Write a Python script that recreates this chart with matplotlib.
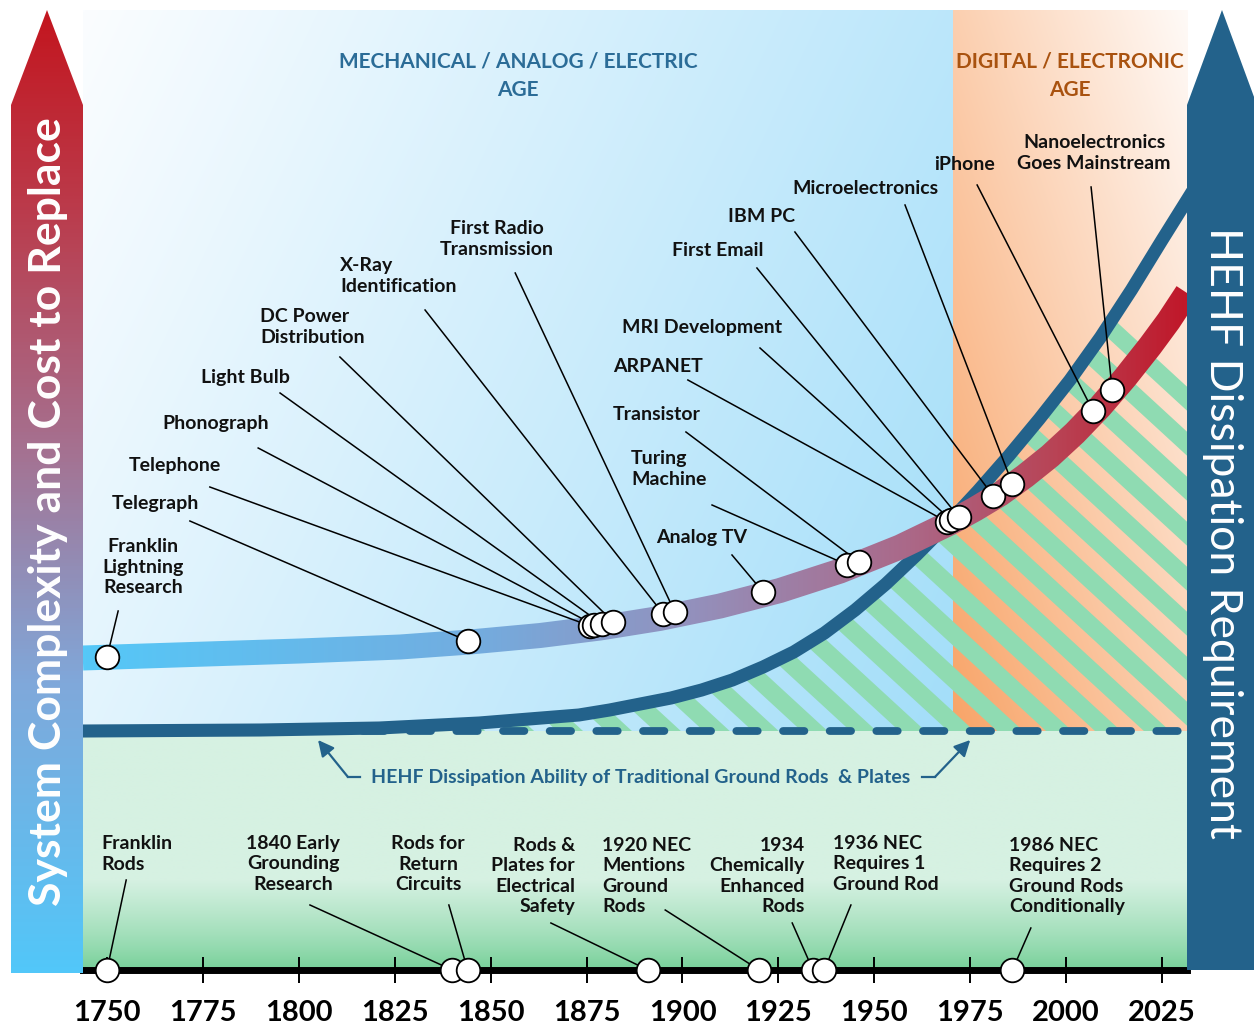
import numpy as np
import matplotlib
matplotlib.use('Agg')
import matplotlib.pyplot as plt
from matplotlib.colors import LinearSegmentedColormap, to_rgb
from matplotlib.patches import Polygon
from matplotlib.path import Path
from matplotlib.transforms import IdentityTransform
from matplotlib.collections import PolyCollection

plt.rcParams['font.family'] = ['Lato', 'DejaVu Sans']

# ---------------- data ----------------
# system complexity / cost to replace curve
cplx_years = [1743.7, 1800.3, 1826.4, 1844.6, 1862.9, 1878.5, 1894.1, 1909.8, 1925.4, 1941.1,
              1956.7, 1969.7, 1976.3, 1982.8, 1989.3, 1995.8, 2002.3, 2008.8, 2015.3, 2021.9,
              2026.7, 2031.5]
cplx_level = [312, 319, 323, 328, 334.5, 342, 351.6, 364, 379.5, 399,
              423, 447, 461, 476, 494, 514, 537, 563, 592, 624,
              649, 677]

# HEHF dissipation requirement curve
hehf_years = [1744, 1790, 1821, 1847, 1860, 1873, 1881, 1889, 1897, 1905, 1913, 1921, 1929,
              1937, 1945, 1953, 1961, 1969, 1977, 1985, 1993, 2001, 2009, 2017, 2025, 2032]
hehf_level = [239, 240, 242, 247, 251, 255, 260, 266, 272, 280, 290, 303, 318,
              337, 360, 386, 415, 446, 479, 514, 551, 590, 633, 680, 730, 773]

rods_level = 239          # ability of traditional ground rods & plates
digital_start = 1970.5    # start of digital / electronic age

tech_labels = ["Franklin\nLightning\nResearch", "Telegraph", "Telephone", "Phonograph",
               "Light Bulb", "DC Power\nDistribution", "X-Ray\nIdentification",
               "First Radio\nTransmission", "Analog TV", "Turing\nMachine", "Transistor",
               "ARPANET", "MRI Development", "First Email", "IBM PC", "Microelectronics",
               "iPhone", "Nanoelectronics\nGoes Mainstream"]
tech_years = [1750, 1844, 1876, 1877, 1879, 1882, 1895, 1898, 1921, 1943, 1946,
              1969, 1970, 1972, 1981, 1986, 2007, 2012]
tech_level = [313, 329, 344, 345, 346, 348, 356, 358, 378, 405, 408,
              448, 450, 453, 474, 486, 559, 580]

ground_labels = ["Franklin\nRods", "1840 Early\nGrounding\nResearch", "Rods for\nReturn\nCircuits",
                 "Rods &\nPlates for\nElectrical\nSafety", "1920 NEC\nMentions\nGround\nRods",
                 "1934\nChemically\nEnhanced\nRods", "1936 NEC\nRequires 1\nGround Rod",
                 "1986 NEC\nRequires 2\nGround Rods\nConditionally"]
ground_years = [1750, 1840, 1844, 1891, 1920, 1934, 1937, 1986]

tick_years = list(range(1750, 2026, 25))

# ---------------- layout of labels ----------------
tech_text_xy = [(1759.4, 403), (1762.5, 466), (1767.7, 504), (1778.4, 546), (1786.0, 592),
                (1789.9, 643), (1810.7, 694), (1851.7, 731), (1905.1, 432), (1886.6, 501),
                (1893.4, 556), (1893.6, 603), (1905.1, 643), (1909.3, 720), (1920.5, 754),
                (1947.8, 781), (1973.4, 805), (2007.3, 817)]
tech_ha = ['center', 'center', 'center', 'center', 'center', 'left', 'left', 'center', 'center',
           'left', 'center', 'center', 'center', 'center', 'center', 'center', 'center', 'center']
tech_lead = [(1752.9, 359), (1771.6, 449), (1776.8, 483), (1789.4, 522), (1795.1, 577),
             (1810.7, 613), (1832.9, 660), (1856.4, 697), (1912.9, 415), (1907.7, 465),
             (1900.9, 538), (1901.4, 590), (1920.2, 622), (1919.4, 702), (1929.3, 738),
             (1958.0, 765), (1976.8, 785), (2006.5, 783)]

ground_text_xy = [(1748.4, 116), (1798.5, 106), (1833.7, 106), (1872.0, 94),
                  (1879.0, 94), (1931.9, 94), (1939.2, 106), (1985.1, 94)]
ground_ha = ['left', 'center', 'center', 'right', 'left', 'right', 'left', 'left']
ground_lead = [(1755.0, 90), (1802.9, 65), (1839.1, 65), (1865.7, 47),
               (1895.5, 60), (1928.6, 47), (1943.9, 65), (1990.8, 42)]

# ---------------- figure ----------------
W, H = 1254, 1028
fig = plt.figure(figsize=(W / 100, H / 100), dpi=100)
ax = fig.add_axes([83 / W, 58 / H, 1104 / W, 960 / H])
x0, x1 = 1743.74, 2031.5
ax.set_xlim(x0, x1)
ax.set_ylim(0, 960)

BLUE = '#23628b'
STRIPE = '#8fdbb2'
LABEL_FS = 14
LSP = 1.22


def grad(c0, c1, t):
    a, b = np.array(to_rgb(c0)), np.array(to_rgb(c1))
    t = np.clip(t, 0, 1)[..., None]
    return a * (1 - t) + b * t


n = 200
u = np.linspace(0, 1, n)[None, :]
v = np.linspace(0, 1, n)[:, None]   # 0 = bottom

# mechanical age background
img = grad('#fbfdff', '#a3def9', 0.72 * u + 0.28 * (1 - v))
ax.imshow(img, extent=(x0, digital_start, rods_level, 960), origin='lower',
          aspect='auto', zorder=0, interpolation='bilinear')
# digital age background
img = grad('#fffaf7', '#f8a468', 1 - (0.5 * u + 0.5 * v))
ax.imshow(img, extent=(digital_start, x1, rods_level, 960), origin='lower',
          aspect='auto', zorder=0, interpolation='bilinear')
# green ground region
lv = np.linspace(0, rods_level, n)[:, None] * np.ones((1, 2))
img = grad('#74cf97', '#d6f1e2', (lv / 90) ** 0.8)
ax.imshow(img, extent=(x0, x1, 0, rods_level), origin='lower',
          aspect='auto', zorder=0, interpolation='bilinear')

# hatched gap between requirement and ability
clip_verts = list(zip(hehf_years, hehf_level)) + [(x1 + 5, hehf_level[-1]), (x1 + 5, rods_level),
                                                   (x0, rods_level)]
clip = Polygon(clip_verts, closed=True, transform=ax.transData, facecolor='none',
               edgecolor='none')
ax.add_patch(clip)
pxy = 1104 / (x1 - x0)          # pixels per year
slope = 0.92
stripes = []
for c in np.arange(0, 1600, 45):
    xa, xb = x0, x1
    ya, yb = c - slope * pxy * (xa - x0), c - slope * pxy * (xb - x0)
    stripes.append([(xa, ya), (xb, yb), (xb, yb + 24), (xa, ya + 24)])
pc = PolyCollection(stripes, facecolors=STRIPE, edgecolors='none', zorder=1)
ax.add_collection(pc)
pc.set_clip_path(clip)

# dashed ability line and requirement curve
ax.axhline(rods_level, color=BLUE, lw=5.6, dashes=(2.75, 3.25), dash_capstyle='round', zorder=2)
ax.plot(hehf_years, hehf_level, color=BLUE, lw=9.4, solid_joinstyle='round', zorder=3)

# complexity band with colour gradient
pts = ax.transData.transform(np.column_stack([cplx_years, cplx_level]))
d = np.gradient(pts, axis=0)
d /= np.hypot(d[:, 0], d[:, 1])[:, None]
nrm = np.column_stack([-d[:, 1], d[:, 0]])
hw = 12.5
band = np.vstack([pts + nrm * hw, (pts - nrm * hw)[::-1]])
band_path = Path(np.vstack([band, band[:1]]), closed=True)
band_cmap = LinearSegmentedColormap.from_list(
    'band', [(0, '#55c8f8'), (0.35, '#72ade0'), (0.55, '#9391bd'), (0.75, '#ab6888'),
             (0.88, '#b84456'), (1, '#c0182a')])
im = ax.imshow(np.linspace(0, 1, 512)[None, :], cmap=band_cmap, extent=(x0, x1, 0, 960),
               aspect='auto', zorder=4, interpolation='bilinear')
im.set_clip_path(band_path, IdentityTransform())

# leader lines, dots, labels
for lab, yr, lvl, (tx, ty), ha, (lx, ly) in zip(tech_labels, tech_years, tech_level,
                                                tech_text_xy, tech_ha, tech_lead):
    ax.plot([lx, yr], [ly, lvl], color='black', lw=1.1, zorder=5)
    ax.text(tx, ty, lab, ha=ha, va='center', multialignment=ha, fontsize=LABEL_FS,
            fontweight='bold', color='#111111', linespacing=LSP, zorder=7)
ax.plot(tech_years, tech_level, 'o', ms=17, mfc='white', mec='black', mew=1.3, zorder=6)

for lab, yr, (tx, ty), ha, (lx, ly) in zip(ground_labels, ground_years, ground_text_xy,
                                           ground_ha, ground_lead):
    ax.plot([lx, yr], [ly, 0], color='black', lw=1.1, zorder=5)
    ax.text(tx, ty, lab, ha=ha, va='center', multialignment=ha, fontsize=LABEL_FS,
            fontweight='bold', color='#111111', linespacing=LSP, zorder=7)
ax.plot(ground_years, [0] * len(ground_years), 'o', ms=17, mfc='white', mec='black',
        mew=1.3, zorder=6, clip_on=False)

# age titles
ax.text(1857.1, 894, "MECHANICAL / ANALOG / ELECTRIC\nAGE", ha='center', va='center',
        fontsize=15, fontweight='bold', color='#2b6c97', linespacing=1.5, zorder=7)
ax.text(2001.0, 894, "DIGITAL / ELECTRONIC\nAGE", ha='center', va='center',
        fontsize=15, fontweight='bold', color='#a9520f', linespacing=1.5, zorder=7)

# ability annotation
ax.text(1889.2, 193, "HEHF Dissipation Ability of Traditional Ground Rods  & Plates",
        ha='center', va='center', fontsize=14, fontweight='bold', color=BLUE, zorder=7)
for (ta, tb, tip) in [((1815.9, 193), (1812.8, 193), (1805.0, 230)),
                      ((1962.4, 193), (1965.8, 193), (1975.0, 230))]:
    ax.plot([ta[0], tb[0]], [ta[1], tb[1]], color=BLUE, lw=1.6, zorder=7)
    ax.annotate('', xy=tip, xytext=tb, zorder=7,
                arrowprops=dict(arrowstyle='-|>', color=BLUE, lw=1.6, mutation_scale=24,
                                shrinkA=0, shrinkB=0))

# timeline axis
for s in ['top', 'left', 'right']:
    ax.spines[s].set_visible(False)
ax.spines['bottom'].set_linewidth(5)
ax.spines['bottom'].set_color('black')
ax.set_yticks([])
ax.set_xticks(tick_years, labels=[str(t) for t in tick_years], fontsize=21, fontweight='bold')
ax.tick_params(axis='x', direction='inout', length=19, width=1.4, pad=12, color='black')

# left arrow: system complexity
axl = fig.add_axes([11 / W, 55 / H, 72 / W, 963 / H])
axl.set_xlim(0, 1)
axl.set_ylim(0, 963)
axl.axis('off')
shape = Polygon([(0, 0), (1, 0), (1, 868), (0.5, 963), (0, 868)], closed=True,
                transform=axl.transData, facecolor='none', edgecolor='none')
axl.add_patch(shape)
arrow_cmap = LinearSegmentedColormap.from_list(
    'arr', [(0, '#52c7f9'), (0.3, '#80a8da'), (0.55, '#a6708f'), (0.8, '#bb3a4a'), (1, '#c3161f')])
im = axl.imshow(np.linspace(0, 1, 256)[:, None], cmap=arrow_cmap, extent=(0, 1, 0, 963),
                origin='lower', aspect='auto', interpolation='bilinear')
im.set_clip_path(shape)
axl.text(0.52, 461, "System Complexity and Cost to Replace", rotation=90, ha='center',
         va='center', color='white', fontsize=32, fontweight='bold')

# right arrow: HEHF dissipation requirement
axr = fig.add_axes([1187 / W, 58 / H, 70 / W, 960 / H])
axr.set_xlim(0, 1)
axr.set_ylim(0, 960)
axr.axis('off')
axr.add_patch(Polygon([(0, 0), (1, 0), (1, 865), (0.5, 960), (0, 865)], closed=True,
                      facecolor=BLUE, edgecolor='none'))
axr.text(0.5, 437, "HEHF Dissipation Requirement", rotation=270, ha='center', va='center',
         color='white', fontsize=32)

fig.savefig('out.png', dpi=100)
